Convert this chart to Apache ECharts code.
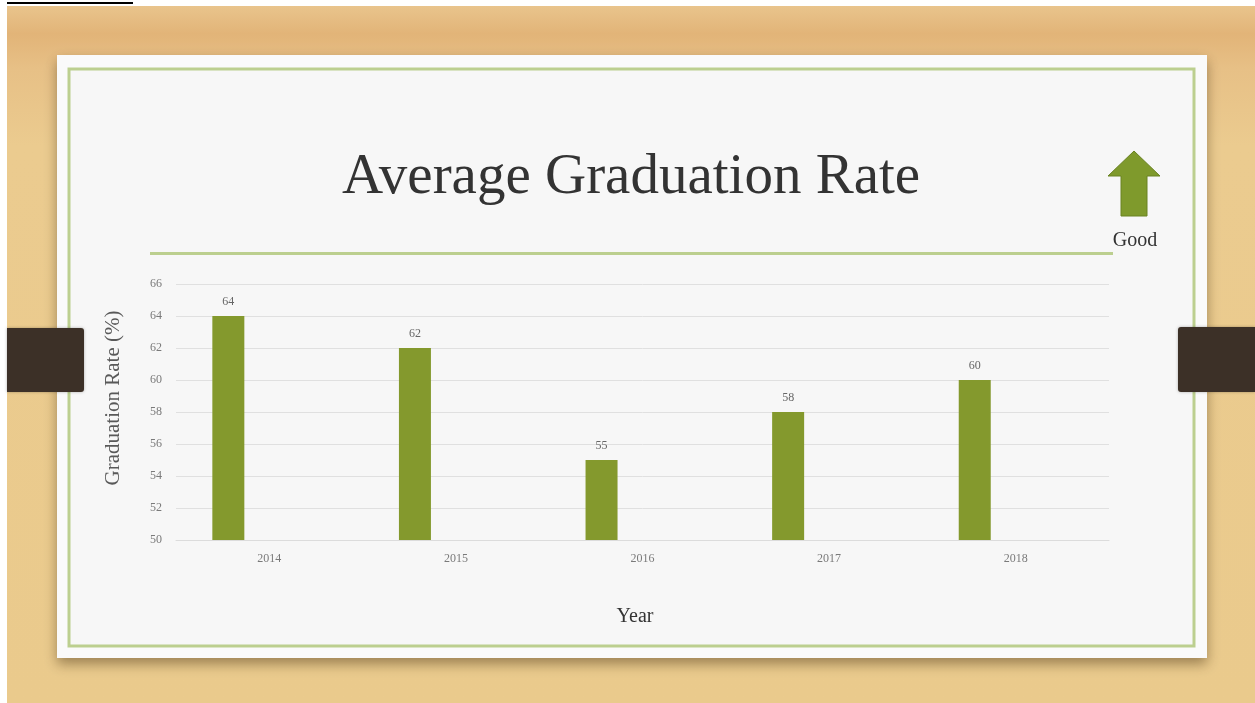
<!DOCTYPE html>
<html>
<head>
<meta charset="utf-8">
<title>Average Graduation Rate</title>
<script src="https://cdn.jsdelivr.net/npm/echarts@6/dist/echarts.min.js"></script>
<style>
  html, body { margin: 0; padding: 0; background: #fff; }
  #chart { width: 1255px; height: 703px; }
</style>
</head>
<body>
<div id="chart"></div>
<script>
// data
var years = ['2014', '2015', '2016', '2017', '2018'];
var rates = [64, 62, 55, 58, 60];
var emptySeries = ['-', '-', '-', '-', '-'];   // second (blank) series that pushes bars left
var yTicks = { min: 50, max: 66, step: 2 };

var serif = '"Liberation Serif", "DejaVu Serif", serif';
var barGreen = '#84992d';
var lineGreen = '#bccf8f';

var chart = echarts.init(document.getElementById('chart'));

var option = {
  backgroundColor: '#ffffff',
  animation: false,
  graphic: [
    // wood backdrop
    { type: 'rect', z: -20, shape: { x: 7, y: 6, width: 1248, height: 697 },
      style: { fill: new echarts.graphic.LinearGradient(0, 0, 0, 1, [
        { offset: 0, color: '#e9c48c' },
        { offset: 0.04, color: '#e2b478' },
        { offset: 0.09, color: '#e7c086' },
        { offset: 0.2, color: '#ebcb8f' },
        { offset: 1, color: '#eaca8c' }
      ]) } },
    // black mark top-left
    { type: 'rect', z: -19, shape: { x: 7, y: 2, width: 126, height: 2 }, style: { fill: '#000' } },
    // card
    { type: 'rect', z: -17, shape: { x: 57, y: 55, width: 1150, height: 603 },
      style: { fill: '#fafafa', shadowBlur: 12, shadowOffsetY: 6, shadowColor: 'rgba(60,40,10,0.45)' } },
    // green border
    { type: 'rect', z: -16, shape: { x: 69, y: 69, width: 1125, height: 577 },
      style: { fill: '#f7f7f7', stroke: lineGreen, lineWidth: 3 } },
    // straps over the card edge
    { type: 'rect', z: -14, shape: { x: 7, y: 328, width: 77, height: 64, r: [0, 3, 3, 0] },
      style: { fill: '#3c3027', shadowBlur: 3, shadowColor: 'rgba(0,0,0,0.3)' } },
    { type: 'rect', z: -14, shape: { x: 1178, y: 327, width: 77, height: 65, r: [3, 0, 0, 3] },
      style: { fill: '#3c3027', shadowBlur: 3, shadowColor: 'rgba(0,0,0,0.3)' } },
    // rule under the title
    { type: 'rect', z: -15, shape: { x: 150, y: 252, width: 963, height: 3 }, style: { fill: lineGreen } },
    // title
    { type: 'text', z: 10, x: 631, y: 150,
      style: { text: 'Average Graduation Rate', font: '57px ' + serif, fill: '#333333', align: 'center' } },
    // arrow
    { type: 'polygon', z: 10,
      shape: { points: [[1134, 151], [1160, 176], [1147, 176], [1147, 216], [1121, 216], [1121, 176], [1108, 176]] },
      style: { fill: '#7f9a2c', stroke: '#6a8323', lineWidth: 1 } },
    { type: 'text', z: 10, x: 1135, y: 241,
      style: { text: 'Good', font: '20px ' + serif, fill: '#333333', align: 'center', verticalAlign: 'middle' } },
    // axis titles
    { type: 'text', z: 10, x: 113, y: 398, rotation: Math.PI / 2,
      style: { text: 'Graduation Rate (%)', font: '21px ' + serif, fill: '#595959', align: 'center', verticalAlign: 'middle' } },
    { type: 'text', z: 10, x: 635, y: 617,
      style: { text: 'Year', font: '20px ' + serif, fill: '#333333', align: 'center', verticalAlign: 'middle' } }
  ],
  grid: { left: 176, right: 146, top: 284, bottom: 163, containLabel: false },
  xAxis: {
    type: 'category',
    data: years,
    axisTick: { show: false },
    axisLine: { lineStyle: { color: '#dcdcdc', width: 1 } },
    axisLabel: { color: '#7a7a7a', fontFamily: serif, fontSize: 12, margin: 13 }
  },
  yAxis: {
    type: 'value',
    min: yTicks.min,
    max: yTicks.max,
    interval: yTicks.step,
    axisLine: { show: false },
    axisTick: { show: false },
    splitLine: { lineStyle: { color: '#e0e0e0', width: 1 } },
    axisLabel: { color: '#7a7a7a', fontFamily: serif, fontSize: 12, margin: 14 }
  },
  series: [
    {
      name: 'Graduation Rate',
      type: 'bar',
      data: rates,
      barWidth: 32,
      barGap: '156%',
      itemStyle: { color: barGreen },
      label: { show: true, position: 'top', distance: 8, color: '#666666', fontFamily: serif, fontSize: 12 }
    },
    {
      name: 'blank',
      type: 'bar',
      data: emptySeries,
      barWidth: 32
    }
  ]
};

chart.setOption(option);
</script>
</body>
</html>
